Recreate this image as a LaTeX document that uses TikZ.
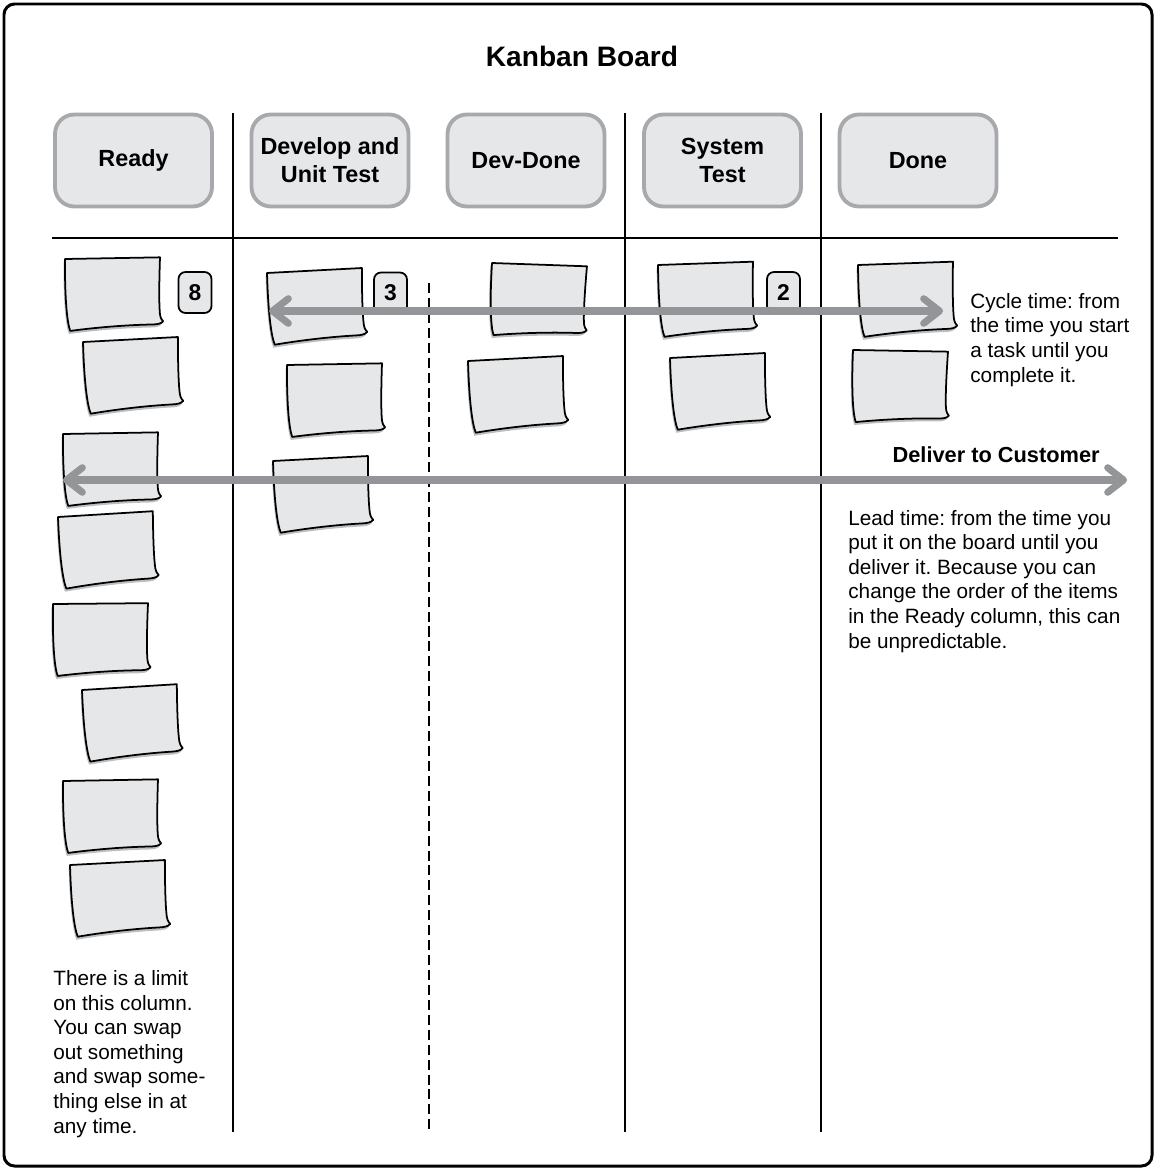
\documentclass[tikz,border=0pt]{standalone}
\usepackage{fontspec}
\setmainfont{Liberation Sans}
\usetikzlibrary{arrows.meta}
\frenchspacing
\definecolor{cardfill}{HTML}{E6E7E8}
\definecolor{headline}{HTML}{A7A9AC}
\definecolor{arrowgray}{HTML}{939598}
\definecolor{shadowgray}{HTML}{BCBEC0}
\newcommand\notepath{(0,0) -- (95,0) .. controls (94,20) and (93,45) .. (94,57)
  .. controls (94.5,61) and (96,63) .. (97,64) .. controls (95,66.5) and (91,67) .. (86,67)
  .. controls (60,67) and (30,69) .. (4,72) .. controls (1,64) and (-1,40) .. (0,0) -- cycle}
\tikzset{
  board/.style={line width=1.4pt},
  colhead/.style={draw=headline, line width=2.2pt, fill=cardfill, rounded corners=11pt,
    minimum width=3.14cm, minimum height=1.84cm, align=center,
    font=\bfseries\fontsize{13.3}{16}\selectfont},
  limit/.style={draw, line width=1pt, fill=cardfill, rounded corners=4pt,
    minimum width=0.66cm, minimum height=0.82cm, inner sep=0pt,
    font=\bfseries\fontsize{13}{15}\selectfont},
  memo/.style={align=left, inner sep=0pt, anchor=base west, font=\fontsize{11.8}{14}\selectfont},
  notebody/.style={draw=black, line width=1pt, fill=cardfill, line join=round},
  notesh/.style={fill=shadowgray},
  note/.pic={
    \fill[notesh, shift={(-1.5,3)}] \notepath;
    \draw[notebody] \notepath;
  },
  span/.style={<->, >={Straight Barb[round, length=9pt, width=14pt]}, line width=4pt, draw=arrowgray}
}
\begin{document}
\begin{tikzpicture}[x=0.02cm, y=-0.02cm]
  \useasboundingbox (0,0) rectangle (1156,1169);
  \draw[line width=1.7pt, rounded corners=6pt] (4,4) rectangle (1152,1166);
  \node[font=\bfseries\fontsize{16}{19}\selectfont, anchor=base] (title) at (582,67) {Kanban Board};

  % columns
  \node[colhead] (ready)   at (133.5,160.5) {Ready};
  \node[colhead] (dev)     at (330,160.5)   {Develop and\\Unit Test};
  \node[colhead] (devdone) at (526,160.5)   {Dev-Done};
  \node[colhead] (systest) at (722.5,160.5) {System\\Test};
  \node[colhead] (done)    at (918,160.5)   {Done};
  \draw[board] (52,238) -- (1118,238);
  \foreach \x in {233,625,821}
    \draw[board] (\x,113) -- (\x,1132);
  \draw[board, dash pattern=on 5.7pt off 2.8pt] (429,283) -- (429,1132);

  % cards
  \foreach \n/\x/\y/\r in {r1/65/259/1, r2/83/342/3, r3/63/434/1, r4/58/517/3.5,
      r5/53/604/0.5, r6/82/690/3.5, r7/63/781/1, r8/70/865/3,
      d1/267/273/3, d2/287/365/1, d3/273/461/3, dd1/492/263/-2, dd2/468/361/3,
      st1/658/265/2, st2/670/358/3, dn1/858/265/2, dn2/853/350/-1}
    \pic[rotate=\r] (\n) at (\x,\y) {note};

  \node[limit] (limready) at (195,292.5)   {8};
  \node[limit] (limdev)   at (390.5,293)   {3};
  \node[limit] (limsys)   at (783.5,292.5) {2};

  % spans
  \coordinate (cycfrom) at (269,311);
  \coordinate (cycto) at (943,311);
  \draw[span] (cycfrom) -- (cycto);
  \coordinate (leadfrom) at (63,480);
  \coordinate (leadto) at (1127,480);
  \draw[span] (leadfrom) -- (leadto);

  % notes (anchored at the last line)
  \node[font=\bfseries\fontsize{12.4}{15}\selectfont, inner sep=0pt, anchor=base east] (deliver) at (1100,462) {Deliver to Customer};
  \node[memo] (cycletxt) at (970,382)
    {Cycle time: from\\the time you start\\a task until you\\complete it.};
  \node[memo] (leadtxt) at (848,648)
    {Lead time: from the time you\\put it on the board until you\\deliver it. Because you can\\change the order of the items\\in the Ready column, this can\\be unpredictable.};
  \node[memo] (readytxt) at (53,1133)
    {There is a limit\\on this column.\\You can swap\\out something\\and swap some-\\thing else in at\\any time.};
\end{tikzpicture}
\end{document}
